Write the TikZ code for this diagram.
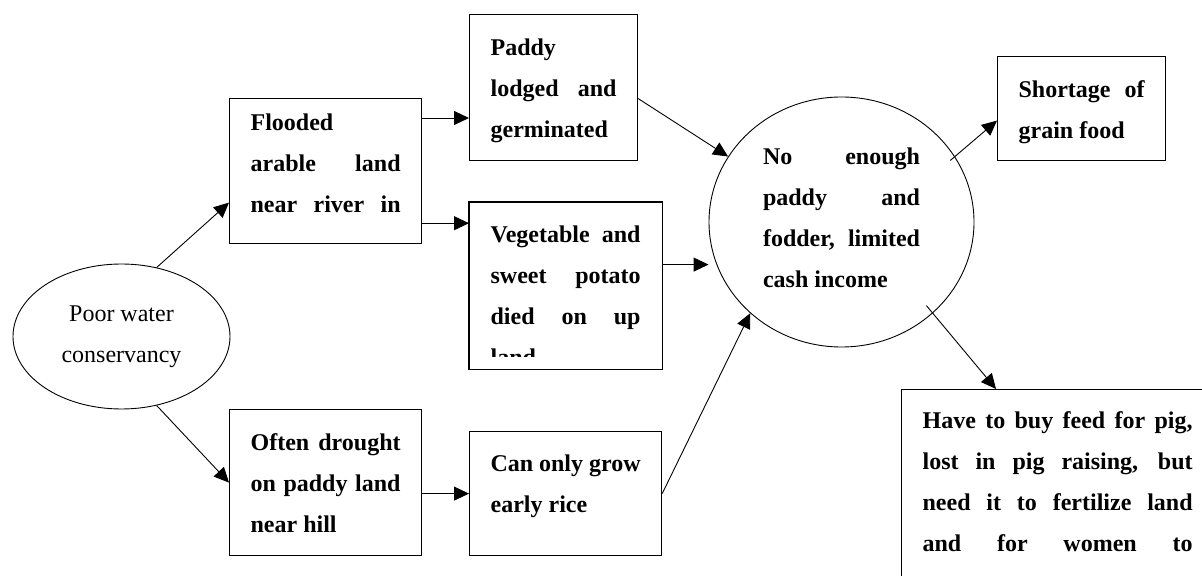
\documentclass[tikz,border=0pt]{standalone}
\usepackage{fontspec}
\setmainfont{Liberation Serif}
\usetikzlibrary{arrows.meta,shapes.geometric}
\def\jl#1{\makebox[\linewidth][s]{#1}}
\newcommand{\boxtext}[4]{\parbox[c][#2][t]{#1}{\fontsize{12pt}{20.5pt}\selectfont\bfseries\rule{0pt}{#3}#4}}
\tikzset{
	box/.style={draw, line width=0.6pt, anchor=north west, inner xsep=10.5pt, inner ysep=0pt},
	arr/.style={-{Triangle[length=7.5pt,width=7pt]}, line width=0.45pt},
	oval/.style={ellipse, draw, line width=0.45pt, inner sep=0pt}
}

\begin{document}
\begin{tikzpicture}[x=0.5pt,y=-0.5pt]
	\useasboundingbox (0,0) rectangle (1202,576);
	\clip (0,0) rectangle (1202,576);
	%%%%% CAUSE %%%%%
	\node[oval, minimum width=108.5pt, minimum height=72.5pt, align=center, font=\fontsize{12pt}{20.5pt}\selectfont] (water) at (121.5,336.5) {Poor water\\conservancy};
	
	%%%%% FIRST EFFECTS %%%%%
	\node[box] (flood) at (229,98) {\boxtext{75pt}{72.5pt}{16pt}{Flooded\\ \jl{arable land}\\ \jl{near river in}}};
	\node[box] (drought) at (229,409) {\boxtext{75pt}{73pt}{20.5pt}{\jl{Often drought}\\ \jl{on paddy land}\\ near hill}};
	
	%%%%% SECOND EFFECTS %%%%%
	\node[box] (paddy) at (469,14) {\boxtext{63pt}{73pt}{20.5pt}{Paddy\\ \jl{lodged and}\\ germinated}};
	\begin{scope}
		\clip (469,202) rectangle (661,357);
		\node[box, draw=none] (veg) at (469,202) {\boxtext{75pt}{83pt}{20pt}{\jl{Vegetable and}\\ \jl{sweet potato}\\ \jl{died on up}\\ land}};
	\end{scope}
	\draw[line width=0.6pt] (veg.north west) rectangle (veg.south east);
	\node[box] (rice) at (469,431) {\boxtext{75pt}{62pt}{20pt}{\jl{Can only grow}\\ early rice}};
	
	%%%%% RESULT %%%%%
	\node[oval, minimum width=132.5pt, minimum height=125pt] (circ) at (841.5,222) {\parbox{78.5pt}{\fontsize{12pt}{20.5pt}\selectfont\bfseries\jl{No enough}\\ \jl{paddy and}\\ \jl{fodder, limited}\\ cash income\rule[-4pt]{0pt}{4pt}}};
	\node[box] (short) at (997,56) {\boxtext{63pt}{52pt}{20.5pt}{\jl{Shortage of}\\ grain food}};
	\node[box] (feed) at (901,389) {\boxtext{135pt}{110pt}{19.5pt}{\jl{Have to buy feed for pig,}\\ \jl{lost in pig raising, but}\\ \jl{need it to fertilize land}\\ \jl{and for women to}}};
	
	%%%%% ARROWS %%%%%
	\draw[arr] (water.63) -- ([yshift=-15.75pt]flood.west);
	\draw[arr] (water.-63) -- (drought.west);
	\draw[arr] ([yshift=-10pt]flood.north east) -- ([yshift=-10pt]flood.north east -| paddy.west);
	\draw[arr] ([yshift=10.5pt]flood.south east) -- ([yshift=10.5pt]flood.south east -| veg.west);
	\draw[arr] ([yshift=-5.5pt]drought.east) -- (rice.west);
	\draw[arr] ([yshift=-5.5pt]paddy.east) -- (circ.150);
	\draw[arr] ([yshift=10.5pt]veg.east) -- ([yshift=10.5pt]veg.east -| circ.west);
	\draw[arr] (rice.east) -- (circ.225);
	\draw[arr, shorten <=-3pt] (circ.30) -- ([yshift=-6pt]short.west);
	\draw[arr, shorten <=-5pt] (circ.-45) -- ([xshift=47.5pt]feed.north west);
\end{tikzpicture}
\end{document}
